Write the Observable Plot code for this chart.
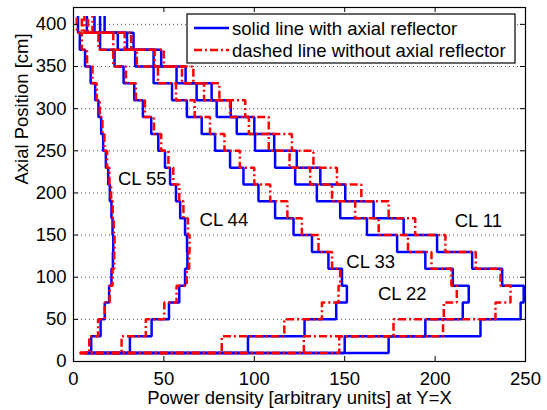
<!DOCTYPE html>
<html><head><meta charset="utf-8">
<script src="https://cdn.jsdelivr.net/npm/d3@7"></script>
<script src="https://cdn.jsdelivr.net/npm/@observablehq/plot@0.6"></script>
<style>body{margin:0;background:#fff}#chart{width:547px;height:410px}</style>
</head><body><div id="chart"></div>
<script>
// Layer boundaries (cm)
const layerEdges = [10,30,50,70,90,110,130,150,170,190,210,230,250,270,290,310,330,350,370,390,410];
const curveNames = ["CL 11","CL 22","CL 33","CL 44","CL 55"];
const seriesNames = ["solid line with axial reflector","dashed line without axial reflector"];
const xTicks = [0,50,100,150,200,250];
const yTicks = [0,50,100,150,200,250,300,350,400];

// with axial reflector (blue, solid), layer values bottom -> top
const cl11With = [174.3,225.1,247.3,249,237.1,220.5,201.1,182.6,166,150.3,136.5,123.5,111,100,87,76.4,62,48.5,33.2,17.2];
const cl22With = [150,194.6,215.3,218.6,209.8,194.6,179,162.3,147.5,134.6,122.6,111.5,100.4,90.3,79.2,68.1,57,44.3,29.6,14.7];
const cl33With = [96.5,127.8,145.3,151.2,148.5,141,131.9,121.7,111.5,102.3,94,86.6,78.3,70.9,62.7,54.5,44.3,34.1,24.5,11.6];
const cl44With = [31.2,43.2,52.8,58.5,61.7,63,62.8,61.7,59,56.7,53.4,50.6,46.9,43,38.4,33.6,27.7,22.7,14.7,7.4];
const cl55With = [9.8,15,17.3,19.7,21,21.8,22,21.6,21,20.1,19.2,17.9,16.4,15.3,13.8,12,9.5,6.4,3.5,2.5];
const startWith = [6.5,6.5,6.5,6.5,6.5];

// without axial reflector (red, dash-dot)
const cl11Without = [147,204.4,233.4,241.7,236.2,222.5,205.7,189,174.3,159.2,145.7,132.7,120.8,108,95,80.7,66.3,49.9,31.9,10.5];
const cl22Without = [127.4,177,204.8,212,209,198,185,168.8,155.8,143,130.9,119.5,108,97,86.6,72.2,60,44.9,28.3,8];
const cl33Without = [82,116.6,137.4,146.6,147.5,143,135.5,126.3,118.3,108.8,100,92,83.5,75.5,67,56.7,46.7,35,22,6];
const cl44Without = [26.6,40,50.2,57,62.6,64,64.2,63.3,60.8,58.5,55.2,52.5,48.5,44.5,39.5,34.5,29,22,13.8,4.6];
const cl55Without = [8.7,13.6,17.3,20,21.6,22.5,22.7,22.3,21.7,20.8,19.9,18.6,17.1,16,14.5,12.8,10.5,7.5,4.6,1.8];
const startWithout = [3.5,3.5,3.5,3.5,3.5];

// curve label annotations (data units)
const labelText = ["CL 55","CL 44","CL 33","CL 22","CL 11"];
const labelX = [24.6,69.7,150.9,168.4,210.8];
const labelY = [216.7,167.3,117.8,79.5,166.9];

const withSets = [cl11With,cl22With,cl33With,cl44With,cl55With];
const withoutSets = [cl11Without,cl22Without,cl33Without,cl44Without,cl55Without];

function stairs(curve, series, start, values) {
  const pts = [{curve, series, x: start, y: layerEdges[0]}];
  values.forEach((v, i) => {
    pts.push({curve, series, x: v, y: layerEdges[i]});
    pts.push({curve, series, x: v, y: layerEdges[i + 1]});
  });
  return pts;
}
const blueRows = curveNames.flatMap((c, i) => stairs(c, seriesNames[0], startWith[i], withSets[i]));
const redRows = curveNames.flatMap((c, i) => stairs(c, seriesNames[1], startWithout[i], withoutSets[i]));
const labels = labelText.map((t, i) => ({t, x: labelX[i], y: labelY[i]}));

const W = 547, H = 410;
const mL = 73, mR = 22, mT = 7, mB = 49;
const pW = W - mL - mR, pH = H - mT - mB;
const FONT = "'Liberation Sans', Arial, Helvetica, sans-serif";
const dash = "8,3,2,3";

const chart = Plot.plot({
  width: W, height: H,
  marginLeft: mL, marginRight: mR, marginTop: mT, marginBottom: mB,
  style: {fontFamily: FONT, fontSize: "18.5px", background: "white", color: "black"},
  x: {domain: [0, 250]},
  y: {domain: [0, 420]},
  marks: [
    Plot.ruleY(yTicks.filter(t => t > 0), {y: d => d, stroke: "#555", strokeWidth: 1, strokeDasharray: "1,3"}),
    Plot.line(blueRows, {x: "x", y: "y", z: "curve", stroke: "#0000ff", strokeWidth: 2.5, strokeLinejoin: "miter", strokeLinecap: "butt"}),
    Plot.line(redRows, {x: "x", y: "y", z: "curve", stroke: "#ff0000", strokeWidth: 2.5, strokeDasharray: dash, strokeLinejoin: "miter", strokeLinecap: "butt"}),
    Plot.text(labels, {x: "x", y: "y", text: "t", textAnchor: "start", lineAnchor: "middle", fill: "black"}),
    Plot.tickX(xTicks, {x: d => d, insetTop: pH - 5, stroke: "black"}),
    Plot.tickX(xTicks, {x: d => d, insetBottom: pH - 5, stroke: "black"}),
    Plot.tickY(yTicks, {y: d => d, insetRight: pW - 5, stroke: "black"}),
    Plot.tickY(yTicks, {y: d => d, insetLeft: pW - 5, stroke: "black"}),
    Plot.axisX({ticks: xTicks, tickSize: 0, tickPadding: 10, label: null}),
    Plot.axisY({ticks: yTicks, tickSize: 0, tickPadding: 7, label: null}),
    Plot.text(["Power density [arbitrary units] at Y=X"], {frameAnchor: "bottom", dy: 37, text: d => d, lineAnchor: "middle"}),
    Plot.text(["Axial Position [cm]"], {frameAnchor: "left", dx: -51, rotate: -90, text: d => d, lineAnchor: "middle"}),
    Plot.frame({stroke: "black", strokeWidth: 1.2})
  ]
});
document.getElementById("chart").append(chart);

// Legend box inside the axes (top-right), MATLAB style
const svg = d3.select(chart);
const lg = svg.append("g").attr("font-family", FONT).attr("font-size", "18.5px").attr("text-anchor", "start");
lg.append("rect").attr("x", 187).attr("y", 14).attr("width", 328).attr("height", 49)
  .attr("fill", "white").attr("stroke", "black").attr("stroke-width", 1.2);
const rowsY = [28, 50];
const styles = [{stroke: "#0000ff", dash: null}, {stroke: "#ff0000", dash: dash}];
seriesNames.forEach((name, i) => {
  const l = lg.append("line").attr("x1", 194).attr("x2", 229).attr("y1", rowsY[i]).attr("y2", rowsY[i])
    .attr("stroke", styles[i].stroke).attr("stroke-width", 2.5);
  if (styles[i].dash) l.attr("stroke-dasharray", styles[i].dash);
  lg.append("text").attr("x", 232).attr("y", rowsY[i] + 6.7).attr("text-anchor", "start").attr("fill", "black").text(name);
});
</script>
</body></html>
